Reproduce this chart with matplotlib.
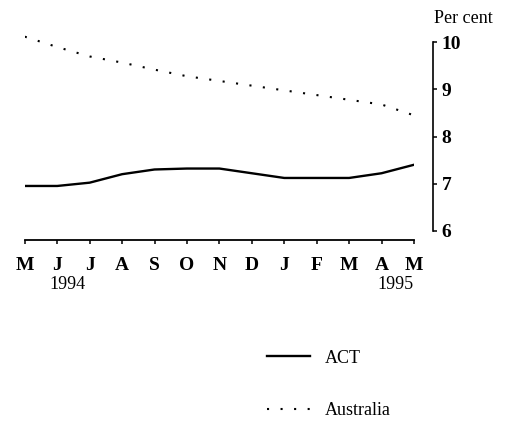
import matplotlib.pyplot as plt

months = ["M", "J", "J", "A", "S", "O", "N", "D", "J", "F", "M", "A", "M"]
act = [6.95, 6.95, 7.02, 7.2, 7.3, 7.32, 7.32, 7.22, 7.12, 7.12, 7.12, 7.22, 7.4]
australia = [10.12, 9.9, 9.7, 9.57, 9.42, 9.28, 9.18, 9.08, 8.98, 8.88, 8.78, 8.68, 8.45]
yticks = [6, 7, 8, 9, 10]

plt.rcParams['font.family'] = ['Liberation Serif', 'DejaVu Serif']

fig = plt.figure(figsize=(5.28, 4.22), dpi=100)
ax = fig.add_axes([0.047, 0.431, 0.737, 0.491])

x = list(range(len(months)))
ax.plot(x, act, color='black', lw=1.7, label='ACT')
ax.plot(x, australia, color='black', lw=1.5, linestyle=(0, (1, 5.5)), label='Australia')

ax.set_xlim(0, 12)
ax.set_ylim(5.8, 10.2)

ax.spines['top'].set_visible(False)
ax.spines['left'].set_visible(False)
ax.spines['right'].set_position(('outward', 14))
ax.spines['right'].set_bounds(6, 10)
ax.spines['right'].set_linewidth(1.2)
ax.spines['bottom'].set_linewidth(1.3)

ax.yaxis.tick_right()
ax.set_yticks(yticks)
ax.set_yticklabels([str(v) for v in yticks], fontsize=14, fontweight='bold')
ax.tick_params(axis='y', length=3, width=1.1, pad=3)

ax.set_xticks(x)
ax.set_xticklabels(months, fontsize=14, fontweight='bold')
ax.tick_params(axis='x', length=3, width=1.1, pad=9)

ax.text(1.3, -0.215, "1994", transform=ax.get_xaxis_transform(), ha='center', va='center', fontsize=13)
ax.text(12, -0.215, "1995", transform=ax.get_xaxis_transform(), ha='right', va='center', fontsize=13)
fig.text(0.822, 0.955, "Per cent", ha='left', va='center', fontsize=13)

fig.legend(loc='upper left', bbox_to_anchor=(0.475, 0.21), frameon=False, fontsize=13,
           handlelength=2.4, handletextpad=0.8, labelspacing=1.95)

fig.savefig("out.png", dpi=100)
